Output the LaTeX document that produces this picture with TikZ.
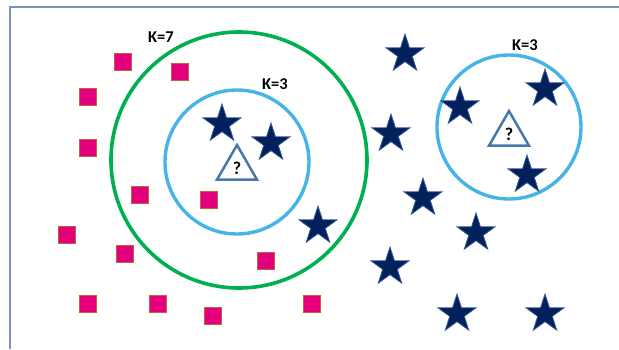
\documentclass[tikz,border=0pt]{standalone}
\usepackage{fontspec}
\setmainfont{Carlito}
\usepackage{tikz}
\usetikzlibrary{shapes.geometric}
\definecolor{framegray}{RGB}{125, 145, 190}
\definecolor{knngreen}{RGB}{0, 176, 80}
\definecolor{knnblue}{RGB}{70, 180, 230}
\definecolor{sqfill}{RGB}{228, 0, 124}
\definecolor{sqedge}{RGB}{190, 100, 55}
\definecolor{starfill}{RGB}{2, 32, 92}
\definecolor{staredge}{RGB}{55, 90, 150}
\definecolor{queryedge}{RGB}{70, 120, 170}

\begin{document}
\begin{tikzpicture}[x=1pt, y=-1pt,
        square/.style={rectangle, draw=sqedge, fill=sqfill, line width=1.3pt, minimum size=17.5pt, inner sep=0pt},
        starpt/.style={star, star points=5, star point ratio=2.618, draw=staredge, fill=starfill, line width=0.8pt, minimum size=40pt, inner sep=0pt},
        query/.style={regular polygon, regular polygon sides=3, draw=queryedge, line width=2.5pt, minimum size=46pt, inner sep=0pt, font=\bfseries\fontsize{18}{18}\selectfont},
        klabel/.style={font=\bfseries\fontsize{16.5}{16.5}\selectfont}]
            % Frame to fix the size:
            \useasboundingbox                                          (  0,   0) rectangle (619, 349);
            \draw[framegray, line width=1.1pt]                         ( 10, 349) -- ( 10,   7) -- (619,   7);
            % Neighbourhoods:
            \draw[knngreen, line width=3.6pt]                          (239, 160) circle (128pt);
            \draw[knnblue,  line width=3.4pt]                          (237, 162) circle ( 72pt);
            \draw[knnblue,  line width=3.4pt]                          (509, 127) circle ( 72pt);
            \node[klabel] (kseven)   at (161,  37) {K=7};
            \node[klabel] (kthreeL)  at (275,  84) {K=3};
            \node[klabel] (kthreeR)  at (525,  45) {K=3};
            % Class A (squares):
            \node[square] (sqA) at (123,  62) {};
            \node[square] (sqB) at (180,  72) {};
            \node[square] (sqC) at ( 88,  97) {};
            \node[square] (sqD) at ( 88, 148) {};
            \node[square] (sqE) at (140, 195) {};
            \node[square] (sqF) at (209, 200) {};
            \node[square] (sqG) at ( 67, 235) {};
            \node[square] (sqH) at (125, 254) {};
            \node[square] (sqI) at (266, 261) {};
            \node[square] (sqJ) at ( 88, 304) {};
            \node[square] (sqK) at (158, 304) {};
            \node[square] (sqL) at (213, 316) {};
            \node[square] (sqM) at (312, 304) {};
            % Class B (stars):
            \node[starpt] (stA) at (222, 124) {};
            \node[starpt] (stB) at (271, 143) {};
            \node[starpt] (stC) at (318, 226) {};
            \node[starpt] (stD) at (405,  54) {};
            \node[starpt] (stE) at (391, 134) {};
            \node[starpt] (stF) at (423, 198) {};
            \node[starpt] (stG) at (476, 233) {};
            \node[starpt] (stH) at (390, 267) {};
            \node[starpt] (stI) at (457, 314) {};
            \node[starpt] (stJ) at (545, 314) {};
            \node[starpt] (stK) at (460, 107) {};
            \node[starpt] (stL) at (545,  89) {};
            \node[starpt] (stM) at (527, 175) {};
            % Unknown points:
            \node[query] (qL) at (237, 168) {?};
            \node[query] (qR) at (509, 134) {?};
        \end{tikzpicture}
\end{document}
